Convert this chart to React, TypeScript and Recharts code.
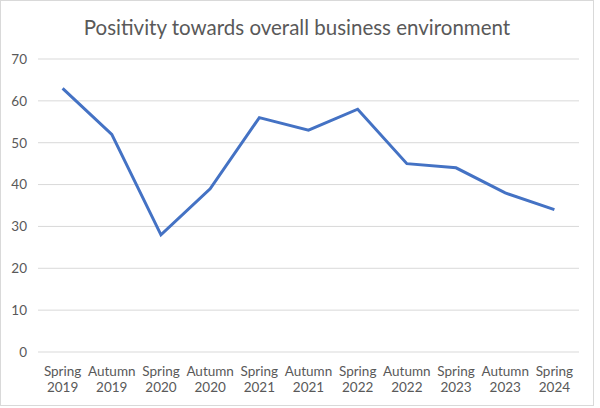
import React from 'react';
import { LineChart, Line, XAxis, YAxis, CartesianGrid } from 'recharts';

// survey waves and the share of positive answers
const waves = [
  'Spring 2019', 'Autumn 2019', 'Spring 2020', 'Autumn 2020', 'Spring 2021', 'Autumn 2021',
  'Spring 2022', 'Autumn 2022', 'Spring 2023', 'Autumn 2023', 'Spring 2024'
];
const positivity = [63, 52, 28, 39, 56, 53, 58, 45, 44, 38, 34];
const yTicks = [0, 10, 20, 30, 40, 50, 60, 70];

const data = waves.map((wave, i) => ({ wave, value: positivity[i] }));

const FONT = 'Lato, "Open Sans", sans-serif';
const TEXT = '#595959';

// two-line category label: season on top, year below
const WaveTick = ({ x, y, payload }: any) => {
  const [season, year] = String(payload.value).split(' ');
  return (
    <g transform={`translate(${x},${y})`}>
      <text x={0} y={15.5} textAnchor="middle" fill={TEXT} fontSize={13.5} fontFamily={FONT}>
        {season}
      </text>
      <text x={0} y={32} textAnchor="middle" fill={TEXT} fontSize={13.5} fontFamily={FONT}>
        {year}
      </text>
    </g>
  );
};

const App: React.FC = () => {
  return (
    <div style={{ position: 'absolute', left: 0, top: 0, width: 600, height: 408, background: '#fff' }}>
      <div style={{
        position: 'absolute', left: 0, top: 0, width: 594, height: 406,
        border: '1px solid #d9d9d9', boxSizing: 'border-box'
      }} />
      <div style={{
        position: 'absolute', left: 0, top: 15, width: 594, textAlign: 'center',
        fontFamily: FONT, fontSize: 20.5, color: TEXT
      }}>
        Positivity towards overall business environment
      </div>
      <div style={{ position: 'absolute', left: 0, top: 0 }}>
        <LineChart
          width={600}
          height={408}
          data={data}
          margin={{ top: 59, right: 21, bottom: 6, left: 0 }}
        >
          <CartesianGrid vertical={false} stroke="#d9d9d9" strokeWidth={1} />
          <XAxis
            dataKey="wave"
            axisLine={false}
            tickLine={false}
            interval={0}
            height={50}
            padding={{ left: 24.6, right: 24.6 }}
            tick={<WaveTick />}
          />
          <YAxis
            domain={[0, 70]}
            ticks={yTicks}
            width={38}
            axisLine={false}
            tickLine={false}
            tickSize={0}
            tickMargin={11}
            tick={{ fill: TEXT, fontSize: 13.5, fontFamily: FONT }}
          />
          <Line
            type="linear"
            dataKey="value"
            stroke="#4472C4"
            strokeWidth={3}
            dot={false}
            isAnimationActive={false}
          />
        </LineChart>
      </div>
    </div>
  );
};

export default App;
